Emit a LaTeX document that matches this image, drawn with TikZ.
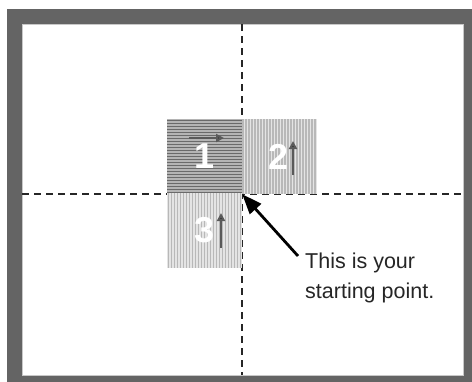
\documentclass[tikz,border=0pt]{standalone}
\usepackage{fontspec}
\setmainfont{Liberation Sans}
\usetikzlibrary{arrows.meta}
\definecolor{framegray}{HTML}{646464}
\definecolor{innerline}{HTML}{C8C8C8}
\definecolor{oneback}{HTML}{B4B4B4}
\definecolor{onestripe}{HTML}{6A6A6A}
\definecolor{twoback}{HTML}{E4E4E4}
\definecolor{twostripe}{HTML}{B8B8B8}
\definecolor{arrowdark}{HTML}{2E2E2E}
\definecolor{arrowshaft}{HTML}{5A5A5A}
\tikzset{
  guide/.style={line width=1.5pt, black!85, dash pattern=on 7pt off 5pt},
  sqbase/.style={minimum size=75pt, inner sep=0pt, text=white,
    font=\fontsize{36}{36}\selectfont\bfseries},
  sqhoriz/.style={sqbase, fill=oneback, path picture={
    \foreach \i in {0,...,24}
      \fill[onestripe] ([yshift=-\i*3pt-0.7pt]path picture bounding box.north west) rectangle ++(75pt,-1.6pt);}},
  sqvert/.style={sqbase, fill=twoback, path picture={
    \foreach \i in {0,...,24}
      \fill[twostripe] ([xshift=\i*3pt+0.7pt]path picture bounding box.north west) rectangle ++(1.4pt,-75pt);}},
  dirarrow/.style={line width=2.5pt, arrowshaft, -{Triangle[length=8pt,width=8pt,fill=arrowdark]}},
  pointer/.style={line width=2.8pt, black, -{Triangle[length=20pt,width=15pt]}},
  note/.style={inner sep=0pt, align=left, font=\fontsize{21.5}{30}\selectfont, text=black!85}
}
\begin{document}
\begin{tikzpicture}[x=1pt,y=-1pt]
\useasboundingbox (0,0) rectangle (472,381);
% frame
\fill[framegray] (7,9) rectangle (480,390);
\filldraw[fill=white, draw=innerline, line width=0.6pt] (22,24) rectangle (463,375);
% guide lines
\draw[guide] (242,24) -- (242,375);
\draw[guide] (22,194) -- (463,194);
% squares
\node[sqhoriz] (s1) at (204.5,156.5) {1};
\node[sqvert]  (s2) at (279,156.5) {2};
\node[sqvert]  (s3) at (204.5,230.5) {3};
% direction arrows
\coordinate (a1s) at (189,138);
\coordinate (a1e) at (224,138);
\coordinate (a2s) at (293,175);
\coordinate (a2e) at (293,141);
\coordinate (a3s) at (221,248);
\coordinate (a3e) at (221,213);
\draw[dirarrow] (a1s) -- (a1e);
\draw[dirarrow] (a2s) -- (a2e);
\draw[dirarrow] (a3s) -- (a3e);
% note and pointer
\node[note, anchor=north west] (txt) at (305,252.5) {This is your\\starting point.};
\coordinate (pstart) at (298,256);
\draw[pointer] (pstart) -- (s1.south east);
\end{tikzpicture}
\end{document}
